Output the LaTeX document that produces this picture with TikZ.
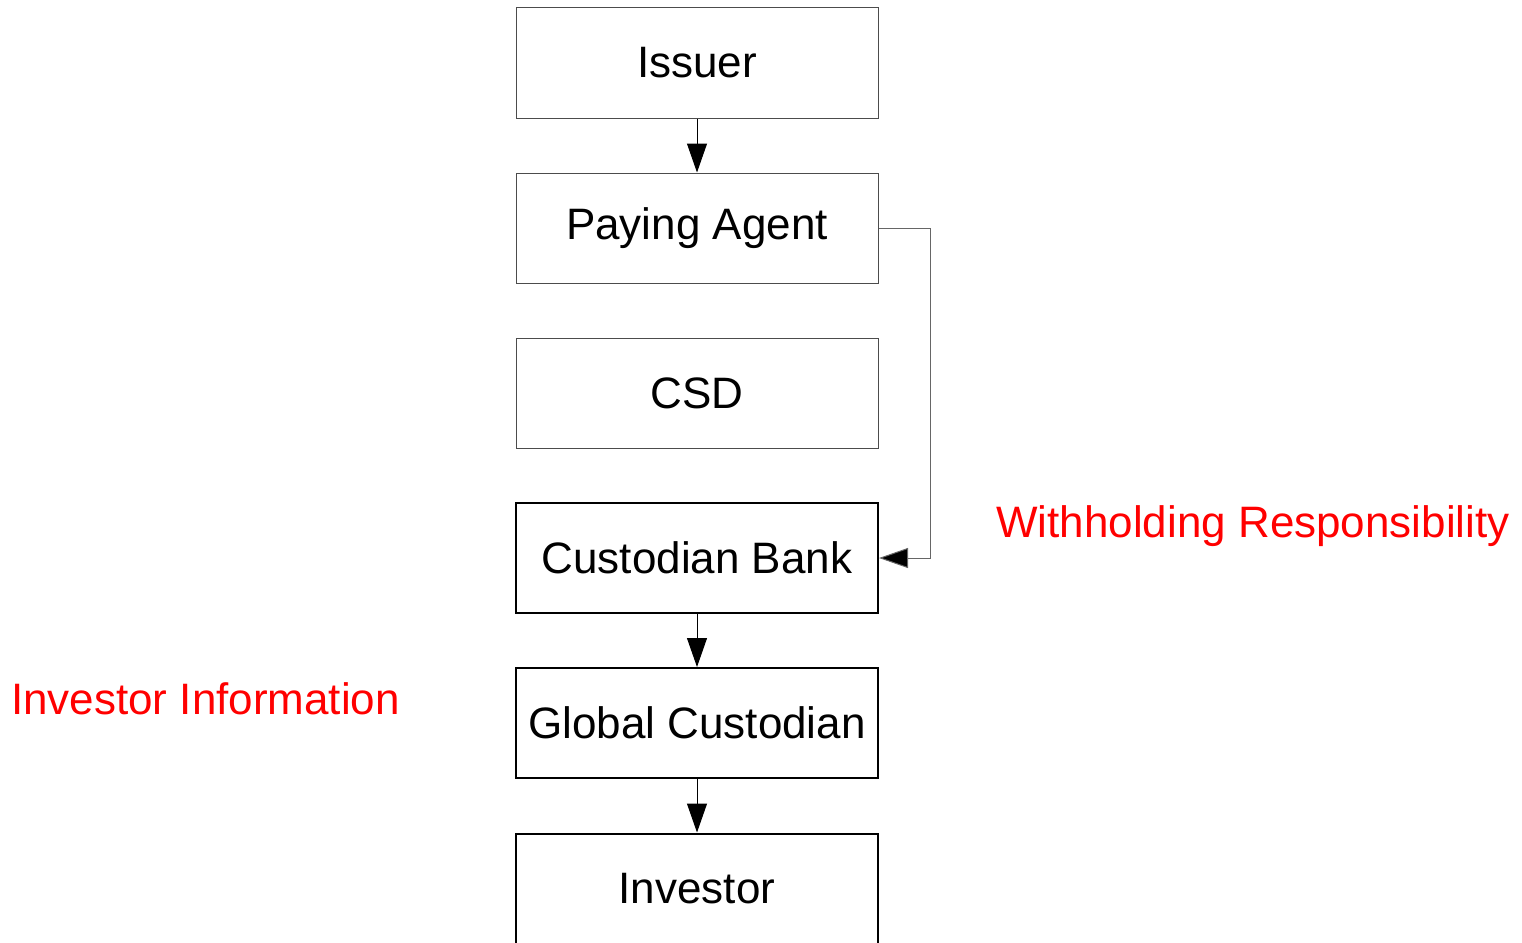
\documentclass[tikz,border=0pt]{standalone}
\usepackage{fontspec}
\setmainfont{Liberation Sans}
\usetikzlibrary{arrows.meta}
\begin{document}
\begin{tikzpicture}[x=1pt,y=-1pt,
  box/.style={draw=black!70, line width=1pt, minimum width=362pt, minimum height=110pt, inner sep=0pt, font=\fontsize{44}{52}\selectfont},
  boxthick/.style={box, draw=black, line width=2pt},
  conn/.style={draw=black, line width=1pt, -{Triangle[width=20pt,length=29pt]}},
  connG/.style={draw=black!60, line width=1pt, -{Triangle[width=20pt,length=29pt,fill=black]}},
  lbl/.style={text=red, font=\fontsize{44}{52}\selectfont, inner sep=0pt}
]
\useasboundingbox (0,0) rectangle (1522,942);
\clip (0,0) rectangle (1522,942);
\node[box] (iss) at (697,63) {Issuer};
\node[box] (pa) at (697,228) {Paying Agent};
\node[box] (csd) at (697,393) {CSD};
\node[boxthick] (cb) at (697,558) {Custodian Bank};
\node[boxthick] (gc) at (697,723) {Global Custodian};
\node[boxthick] (inv) at (697,888.5) {Investor};
\coordinate (c1) at (930,228);
\coordinate (c2) at (930,558);
\draw[conn] (iss) -- (pa);
\draw[conn] (cb) -- (gc);
\draw[conn] (gc) -- (inv);
\draw[connG] (pa.east) -- (c1) -- (c2) -- (cb.east);
\node[lbl] (wr) at (1253,526) {Withholding Responsibility};
\node[lbl] (ii) at (205.5,699) {Investor Information};
\end{tikzpicture}
\end{document}
